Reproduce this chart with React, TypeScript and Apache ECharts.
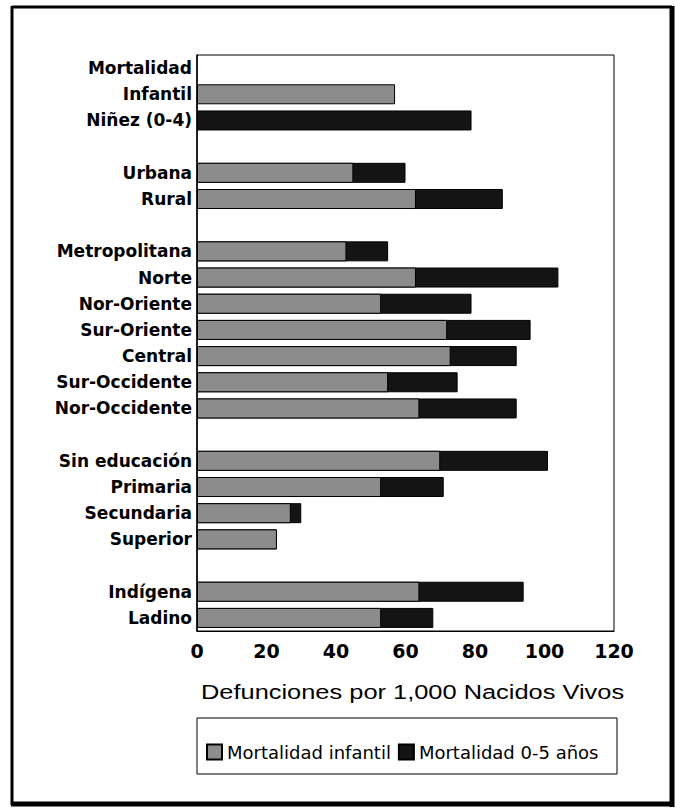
import React, { useEffect, useRef } from "react";
import * as echarts from "echarts";

const categories = [
  "Mortalidad", "Infantil", "Niñez (0-4)", "",
  "Urbana", "Rural", " ",
  "Metropolitana", "Norte", "Nor-Oriente", "Sur-Oriente", "Central", "Sur-Occidente", "Nor-Occidente", "  ",
  "Sin educación", "Primaria", "Secundaria", "Superior", "   ",
  "Indígena", "Ladino",
];

const infantil: (number | null)[] = [
  null, 57, null, null,
  45, 63, null,
  43, 63, 53, 72, 73, 55, 64, null,
  70, 53, 27, 23, null,
  64, 53,
];

const ninez: (number | null)[] = [
  null, null, 79, null,
  60, 88, null,
  55, 104, 79, 96, 92, 75, 92, null,
  101, 71, 30, 23, null,
  94, 68,
];

const xTicks = [0, 20, 40, 60, 80, 100, 120];
const seriesNames = ["Mortalidad infantil", "Mortalidad 0-5 años"];
const axisTitle = "Defunciones por 1,000 Nacidos Vivos";

export default function App() {
  const ref = useRef<HTMLDivElement>(null);
  useEffect(() => {
    if (!ref.current) return;
    const chart = echarts.init(ref.current, null, { renderer: "svg" });
    const font = "'Liberation Sans', Arial, sans-serif";
    const wide = "'DejaVu Sans', Verdana, sans-serif";
    chart.setOption({
      animation: false,
      backgroundColor: "#ffffff",
      textStyle: { fontFamily: wide, color: "#000" },
      grid: {
        left: 197, top: 55, width: 417, height: 576,
        show: true, borderColor: "#000", borderWidth: 1, backgroundColor: "transparent",
      },
      xAxis: {
        type: "value", min: xTicks[0], max: xTicks[xTicks.length - 1], interval: 20,
        axisLine: { show: true, lineStyle: { color: "#000", width: 1 } },
        axisTick: { show: false },
        splitLine: { show: false },
        axisLabel: { color: "#000", fontSize: 19, fontWeight: "bold", margin: 10, fontFamily: wide },
      },
      yAxis: {
        type: "category", data: categories, inverse: true,
        axisLine: { show: true, lineStyle: { color: "#000", width: 1.5 } },
        axisTick: { show: false },
        axisLabel: { color: "#000", fontSize: 17, fontWeight: "bold", margin: 5, fontFamily: wide },
      },
      legend: {
        left: 201, top: 738, itemWidth: 15, itemHeight: 15, itemGap: 7,
        icon: "rect",
        textStyle: { fontSize: 18, color: "#000", fontFamily: wide },
        data: seriesNames,
      },
      series: [
        {
          name: seriesNames[1], type: "bar", data: ninez, barWidth: 20, barGap: "-100%", z: 2,
          itemStyle: { color: "#141414", borderColor: "#000", borderWidth: 1 },
        },
        {
          name: seriesNames[0], type: "bar", data: infantil, barWidth: 20, z: 3,
          itemStyle: { color: "#8c8c8c", borderColor: "#000", borderWidth: 1 },
        },
      ],
      graphic: [
        { type: "line", shape: { x1: 12, y1: 7, x2: 672, y2: 7 }, style: { stroke: "#000", lineWidth: 3 }, silent: true },
        { type: "line", shape: { x1: 12, y1: 6, x2: 12, y2: 805 }, style: { stroke: "#000", lineWidth: 3 }, silent: true },
        { type: "line", shape: { x1: 672, y1: 6, x2: 672, y2: 807 }, style: { stroke: "#000", lineWidth: 5 }, silent: true },
        { type: "line", shape: { x1: 11, y1: 804, x2: 674, y2: 804 }, style: { stroke: "#000", lineWidth: 5 }, silent: true },
        { type: "rect", shape: { x: 197, y: 718, width: 420, height: 56 }, style: { fill: "none", stroke: "#000", lineWidth: 1 }, silent: true },
        { type: "text", x: 201, y: 692, scaleX: 1.27, style: { text: axisTitle, fontSize: 20, fontFamily: font, fill: "#000", verticalAlign: "middle", align: "left" } },
      ],
    });
    return () => chart.dispose();
  }, []);
  return <div ref={ref} style={{ position: "absolute", left: 0, top: 0, width: 675, height: 809 }} />;
}
